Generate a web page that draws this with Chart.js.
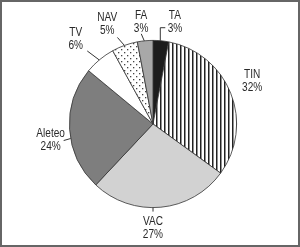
<!DOCTYPE html>
<html>
<head>
<meta charset="utf-8">
<script src="https://cdn.jsdelivr.net/npm/chart.js@4.4.0/dist/chart.umd.min.js"></script>
<style>
  html, body { margin: 0; padding: 0; background: #fff; }
  #wrap { width: 300px; height: 247px; position: relative; }
</style>
</head>
<body>
<div id="wrap"><canvas id="pie-chart" width="300" height="247"></canvas></div>
<script>
const categories = ['TA', 'TIN', 'VAC', 'Aleteo', 'TV', 'NAV', 'FA'];
const percents = [3, 32, 27, 24, 6, 5, 3];

function stripePattern() {
    const c = document.createElement('canvas');
    c.width = 4; c.height = 4;
    const g = c.getContext('2d');
    g.fillStyle = '#fff';
    g.fillRect(0, 0, 4, 4);
    g.fillStyle = '#222';
    g.fillRect(0, 0, 1.5, 4);
    return g.createPattern(c, 'repeat');
}

function dotPattern() {
    const c = document.createElement('canvas');
    c.width = 6; c.height = 6;
    const g = c.getContext('2d');
    g.fillStyle = '#fff';
    g.fillRect(0, 0, 6, 6);
    g.fillStyle = '#444';
    g.fillRect(1, 1, 1.3, 1.3);
    g.fillRect(4, 4, 1.3, 1.3);
    return g.createPattern(c, 'repeat');
}

const fills = ['#1c1c1c', stripePattern(), '#d2d2d2', '#7e7e7e', '#ffffff', dotPattern(), '#a8a8a8'];

// label placement tweaks: nudge from default spot, and leader line from the rim
const labelTweaks = [
    { nudge: [12, 3], anchor: 5, leader: [[0, -13], [5, -13]] },
    { nudge: [1, -4], anchor: null, leader: null },
    { nudge: [-10, -1], anchor: 180, leader: [[0, 4]] },
    { nudge: [3, 10], anchor: 260, leader: [[-7, 2]] },
    { nudge: [-10, -3], anchor: 320, leader: [[-12, -9]] },
    { nudge: [-10, 0], anchor: 340, leader: [[-7, -8]] },
    { nudge: [-2, 3], anchor: 354, leader: [[-3, -7]] }
];

// condensed look: squeeze a regular sans horizontally
function narrowText(ctx, text, x, y) {
    ctx.save();
    ctx.translate(x, y);
    ctx.scale(0.84, 1);
    ctx.fillText(text, 0, 0);
    ctx.restore();
}

const pieLabels = {
    id: 'pieLabels',
    afterDraw(chart) {
        const ctx = chart.ctx;
        const arcs = chart.getDatasetMeta(0).data;
        ctx.save();
        ctx.strokeStyle = '#333';
        ctx.lineWidth = 1;
        ctx.fillStyle = '#2a2a2a';
        ctx.font = '12px "Liberation Sans", Arial, sans-serif';
        ctx.textAlign = 'center';
        ctx.textBaseline = 'middle';
        arcs.forEach((arc, i) => {
            const { x, y, startAngle, endAngle, outerRadius } = arc.getProps(['x', 'y', 'startAngle', 'endAngle', 'outerRadius'], true);
            const mid = (startAngle + endAngle) / 2;
            const t = labelTweaks[i];
            const lx = x + (outerRadius + 22) * Math.cos(mid) + t.nudge[0];
            const ly = y + (outerRadius + 22) * Math.sin(mid) + t.nudge[1];
            narrowText(ctx, categories[i], lx, ly - 6.5);
            narrowText(ctx, percents[i] + '%', lx, ly + 6.5);
            if (t.leader) {
                const a = (t.anchor - 90) * Math.PI / 180;
                const ax = x + outerRadius * Math.cos(a);
                const ay = y + outerRadius * Math.sin(a);
                ctx.beginPath();
                ctx.moveTo(ax, ay);
                t.leader.forEach(p => ctx.lineTo(ax + p[0], ay + p[1]));
                ctx.stroke();
            }
        });
        // frame
        ctx.strokeStyle = '#666';
        ctx.lineWidth = 2;
        ctx.strokeRect(1, 1, chart.width - 2, chart.height - 2);
        ctx.restore();
    }
};

new Chart(document.getElementById('pie-chart').getContext('2d'), {
    type: 'pie',
    data: {
        labels: categories,
        datasets: [{
            data: percents,
            backgroundColor: fills,
            borderColor: '#333',
            borderWidth: 0.8
        }]
    },
    options: {
        responsive: false,
        animation: false,
        layout: {
            padding: { left: 69, right: 63, top: 40, bottom: 39 }
        },
        plugins: {
            legend: { display: false },
            tooltip: { enabled: false }
        }
    },
    plugins: [pieLabels]
});
</script>
</body>
</html>
